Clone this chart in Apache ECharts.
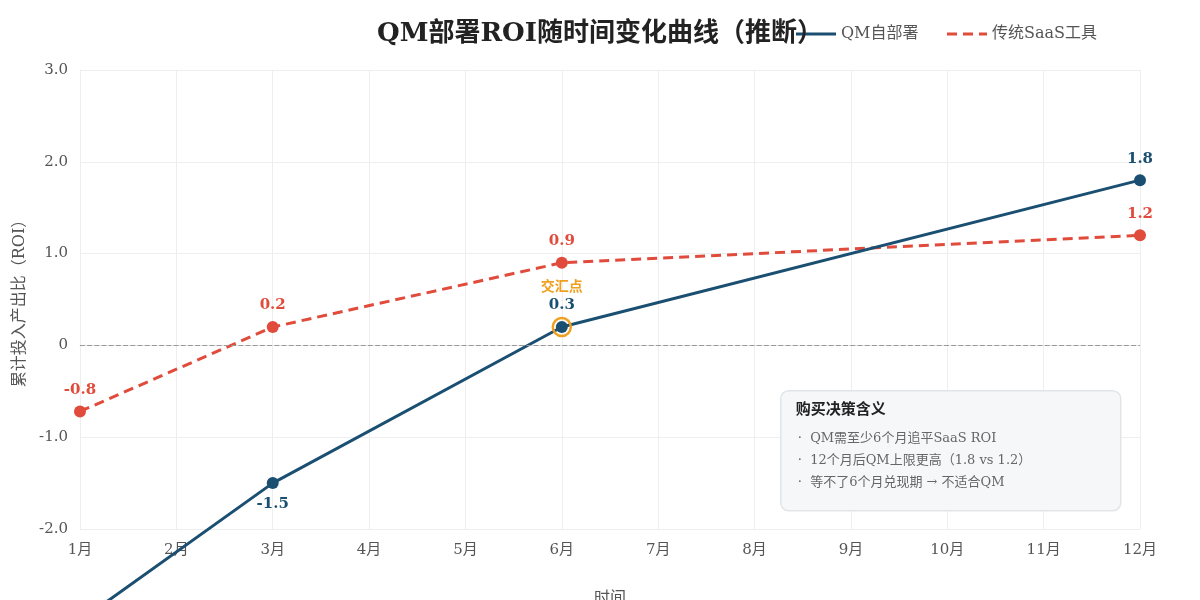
<!DOCTYPE html>
<html>
<head>
<meta charset="utf-8">
<script src="https://cdn.jsdelivr.net/npm/echarts@6/dist/echarts.min.js"></script>
<style>
  html, body { margin: 0; padding: 0; background: #fff; }
  #chart-roi { width: 1200px; height: 600px; }
</style>
</head>
<body>
<div id="chart-roi"></div>
<script>
// months on the x axis
var months = ['1月', '2月', '3月', '4月', '5月', '6月', '7月', '8月', '9月', '10月', '11月', '12月'];
// QM self-deploy ROI (only the marked months)
var qmRoi = [-3.0, null, -1.5, null, null, 0.2, null, null, null, null, null, 1.8];
var qmLabels = ['', '', '-1.5', '', '', '0.3', '', '', '', '', '', '1.8'];
// traditional SaaS ROI
var saasRoi = [-0.72, null, 0.2, null, null, 0.9, null, null, null, null, null, 1.2];
var saasLabels = ['-0.8', '', '0.2', '', '', '0.9', '', '', '', '', '', '1.2'];
// y axis ticks
var yTicks = { '3': '3.0', '2': '2.0', '1': '1.0', '0': '0', '-1': '-1.0', '-2': '-2.0' };
var notes = [
    '·  QM需至少6个月追平SaaS ROI',
    '·  12个月后QM上限更高（1.8 vs 1.2）',
    '·  等不了6个月兑现期 → 不适合QM'
];

var serif = '"DejaVu Serif", "Liberation Serif", "Noto Sans CJK SC", serif';
var blue = '#1b4f72';
var red = '#e04b3b';
var orange = '#f0a020';

var dom = document.getElementById('chart-roi');
var myChart = echarts.init(dom);

function buildData(values, labels, below) {
    var data = [];
    for (var i = 0; i < values.length; i++) {
        data.push({
            value: values[i],
            label: {
                show: labels[i] !== '',
                formatter: labels[i],
                position: (below && i === 2) ? 'bottom' : 'top'
            }
        });
    }
    return data;
}

// note box lines
var boxChildren = [{
    type: 'rect',
    z: 100,
    shape: { x: 0, y: 0, width: 340, height: 120, r: 8 },
    style: { fill: '#f5f7f8', stroke: '#e2e5e8', lineWidth: 1.5 }
}, {
    type: 'text',
    z: 101,
    left: 15,
    top: 12,
    style: { text: '购买决策含义', font: 'bold 15px ' + serif, fill: '#222' }
}];
for (var n = 0; n < notes.length; n++) {
    boxChildren.push({
        type: 'text',
        z: 101,
        left: 17,
        top: 41 + n * 22,
        style: { text: notes[n], font: '13px ' + serif, fill: '#666' }
    });
}

var option = {
    backgroundColor: '#fff',
    animation: false,
    textStyle: { fontFamily: serif },
    title: {
        text: 'QM部署ROI随时间变化曲线（推断）',
        left: 'center',
        top: 16,
        textStyle: { fontSize: 26, fontWeight: 'bold', color: '#222', fontFamily: serif }
    },
    legend: {
        right: 98,
        top: 21,
        itemWidth: 40,
        itemHeight: 12,
        itemGap: 27,
        itemStyle: { opacity: 0 },
        lineStyle: { width: 3 },
        textStyle: { fontSize: 16, color: '#555', fontFamily: serif },
        data: ['QM自部署', '传统SaaS工具']
    },
    grid: { left: 80, right: 60, top: 70, bottom: 71, outerBoundsMode: 'none' },
    xAxis: {
        type: 'category',
        data: months,
        boundaryGap: false,
        name: '时间',
        nameLocation: 'middle',
        nameGap: 62,
        nameTextStyle: { fontSize: 16, color: '#555' },
        axisLine: { lineStyle: { color: '#e3e3e3' } },
        axisTick: { show: false },
        axisLabel: { fontSize: 15, color: '#555', margin: 14 },
        splitLine: { show: true, lineStyle: { color: '#eeeeee' } }
    },
    yAxis: {
        type: 'value',
        min: -2,
        max: 3,
        interval: 1,
        name: '累计投入产出比（ROI）',
        nameLocation: 'middle',
        nameGap: 50,
        nameTextStyle: { fontSize: 16, color: '#555' },
        axisLine: { show: true, lineStyle: { color: '#eeeeee' } },
        axisTick: { show: false },
        axisLabel: {
            fontSize: 15, color: '#555', margin: 12,
            formatter: function(v) { return yTicks[String(v)]; }
        },
        splitLine: { lineStyle: { color: '#eeeeee' } }
    },
    series: [{
        name: 'QM自部署',
        type: 'line',
        data: buildData(qmRoi, qmLabels, true),
        connectNulls: true,
        clip: false,
        symbol: 'circle',
        symbolSize: 12,
        color: blue,
        lineStyle: { width: 3, color: blue },
        label: { fontSize: 15, fontWeight: 'bold', color: blue, distance: 8 },
        markPoint: {
            symbol: 'circle',
            symbolSize: 18,
            silent: true,
            itemStyle: { color: 'rgba(0,0,0,0)', borderColor: orange, borderWidth: 2.5 },
            label: {
                show: true,
                position: 'top',
                distance: 22,
                formatter: '交汇点',
                color: orange,
                fontWeight: 'bold',
                fontSize: 14
            },
            data: [{ coord: ['6月', 0.2] }]
        },
        z: 3
    }, {
        name: '传统SaaS工具',
        type: 'line',
        data: buildData(saasRoi, saasLabels, false),
        connectNulls: true,
        clip: false,
        symbol: 'circle',
        symbolSize: 12,
        color: red,
        lineStyle: { width: 3, color: red, type: [10, 6] },
        label: { fontSize: 15, fontWeight: 'bold', color: red, distance: 8 },
        markLine: {
            silent: true,
            symbol: 'none',
            label: { show: false },
            lineStyle: { color: '#999', type: 'dashed', width: 1.2 },
            data: [{ yAxis: 0 }]
        },
        z: 2
    }],
    graphic: [{
        type: 'group',
        left: 780,
        top: 390,
        z: 100,
        children: boxChildren
    }]
};

myChart.setOption(option);

window.onresize = function() {
    myChart.resize();
};
</script>
</body>
</html>
